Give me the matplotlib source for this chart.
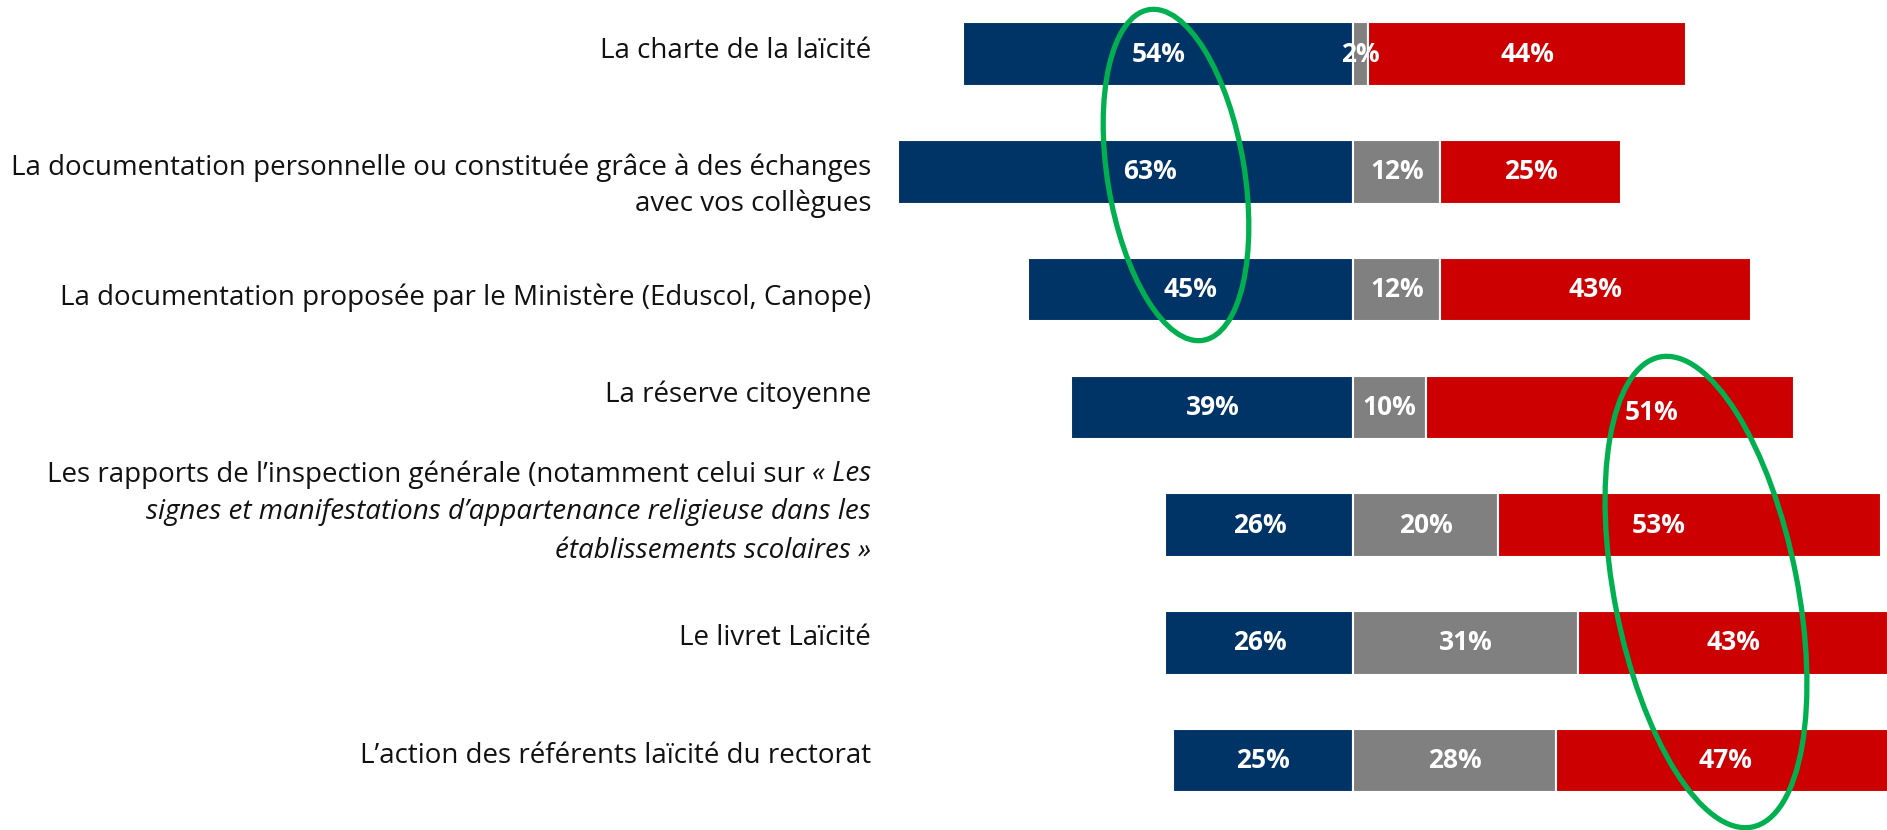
import matplotlib
matplotlib.use("Agg")
import matplotlib.pyplot as plt
from matplotlib.patches import Ellipse
from matplotlib.transforms import offset_copy

plt.rcParams['font.family'] = ['Open Sans', 'DejaVu Sans']

# data (percent)
categories = [
    "La charte de la laïcité",
    "La documentation personnelle ou constituée grâce à des échanges\navec vos collègues",
    "La documentation proposée par le Ministère (Eduscol, Canope)",
    "La réserve citoyenne",
    "",  # drawn by hand below (mixed roman / italic)
    "Le livret Laïcité",
    "L\u2019action des référents laïcité du rectorat",
]
blue_vals = [54, 63, 45, 39, 26, 26, 25]
gray_vals = [2, 12, 12, 10, 20, 31, 28]
red_vals = [44, 25, 43, 51, 53, 43, 47]

BLUE = "#003366"
GRAY = "#808080"
RED = "#CC0000"
GREEN = "#00B050"

# small nudges (layout only)
label_dy = [-0.03, 0.12, 0.07, -0.11, 0, -0.04, -0.04]
blue_dx = [0, 3.3, 0, 0, 0, 0, 0]
red_dx = [0, 0, 0, 5.8, -4.3, 0, 0]
red_dy = [0, 0, 0, 0.04, 0, 0, 0]

fig = plt.figure(figsize=(18.87, 8.30), dpi=100)
ax = fig.add_axes([0, 0, 1, 1])
ax.set_xlim(-187.2, 73.8)
ax.set_ylim(6.59, -0.46)
ax.axis("off")

y = list(range(len(categories)))
h = 0.54
ax.barh(y, [-v for v in blue_vals], height=h, color=BLUE, edgecolor="white", linewidth=1.5)
ax.barh(y, gray_vals, height=h, color=GRAY, edgecolor="white", linewidth=1.5)
ax.barh(y, red_vals, height=h, left=gray_vals, color=RED, edgecolor="white", linewidth=1.5)

lab = dict(color="white", fontsize=19, fontweight="bold", ha="center", va="center")
for i in y:
    ax.text(-blue_vals[i] / 2 + blue_dx[i], i, f"{blue_vals[i]}%", **lab)
    ax.text(gray_vals[i] / 2, i, f"{gray_vals[i]}%", **lab)
    ax.text(gray_vals[i] + red_vals[i] / 2 + red_dx[i], i + red_dy[i], f"{red_vals[i]}%", **lab)

# row labels
lx = -66.7
fs = 20
for i, txt in enumerate(categories):
    if txt:
        ax.text(lx, i + label_dy[i], txt, ha="right", va="center", fontsize=fs,
                color="#111111", linespacing=1.35, multialignment="right")

# row 5 label with italic title
r5 = 4
it1 = ax.text(lx, r5 - 0.43, "\u00ab Les", ha="right", va="center", fontsize=fs,
              style="italic", color="#111111")
fig.canvas.draw()
w = it1.get_window_extent().width * 72 / fig.dpi
ax.text(lx, r5 - 0.43, "Les rapports de l\u2019inspection générale (notamment celui sur ",
        ha="right", va="center", fontsize=fs, color="#111111",
        transform=offset_copy(ax.transData, fig=fig, x=-w, y=0, units="points"))
ax.text(lx, r5 - 0.11, "signes et manifestations d\u2019appartenance religieuse dans les",
        ha="right", va="center", fontsize=fs, style="italic", color="#111111")
ax.text(lx, r5 + 0.22, "établissements scolaires \u00bb",
        ha="right", va="center", fontsize=fs, style="italic", color="#111111")

# green highlight ellipses (pixel overlay)
ov = fig.add_axes([0, 0, 1, 1], facecolor="none")
ov.set_xlim(0, 1887)
ov.set_ylim(830, 0)
ov.axis("off")
ov.add_patch(Ellipse((1176, 175), 137, 335, angle=-9.3, fill=False, edgecolor=GREEN, linewidth=3.8))
ov.add_patch(Ellipse((1706, 592), 183, 479, angle=-11.1, fill=False, edgecolor=GREEN, linewidth=3.8))

fig.savefig("out.png", dpi=100)
